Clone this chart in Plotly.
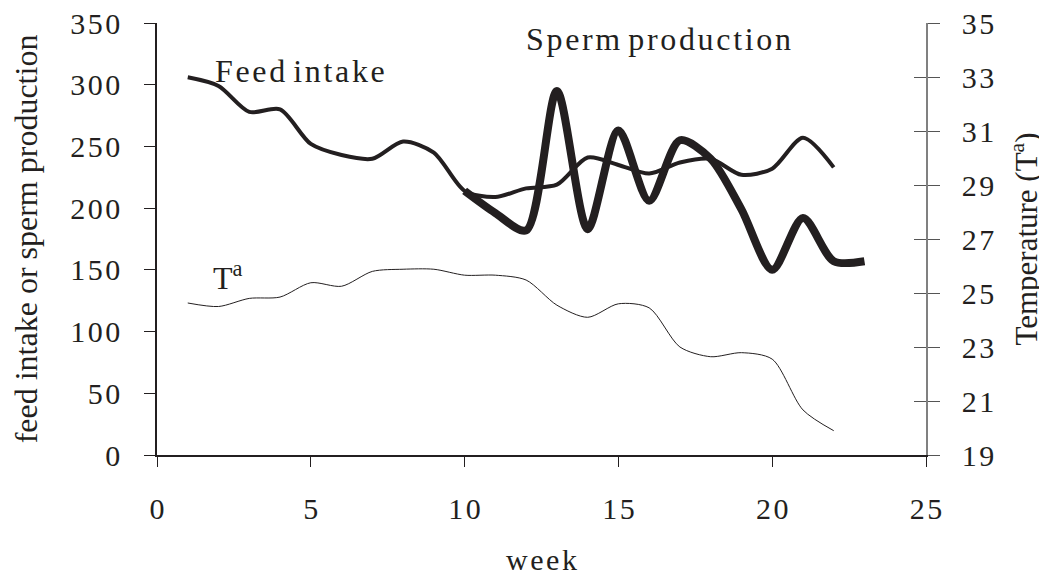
import plotly.graph_objects as go

# ---- data ----
weeks_feed = list(range(1, 23))
feed_intake = [306, 299, 278, 280, 252, 243, 240, 254, 245, 214, 209, 216,
               219, 241, 235, 228, 237, 240, 227, 232, 257, 233]

weeks_sperm = list(range(10, 24))
sperm_production = [214, 196, 182, 295, 183, 263, 206, 255, 240, 199, 150,
                    192, 157, 157]

weeks_temp = list(range(1, 23))
temperature = [24.63, 24.5, 24.8, 24.85, 25.38, 25.25, 25.8, 25.88, 25.88,
               25.66, 25.66, 25.48, 24.55, 24.1, 24.6, 24.45, 23.0, 22.64,
               22.79, 22.55, 20.67, 19.9]

x_ticks = [0, 5, 10, 15, 20, 25]
left_ticks = [0, 50, 100, 150, 200, 250, 300, 350]
right_ticks = [19, 21, 23, 25, 27, 29, 31, 33, 35]

INK = "#231f20"
FONT = "Liberation Serif"
HS = "\u200a"  # hair space: reproduces the slightly wide letter spacing


def spaced(v):
    return HS.join(str(v))


def spaced_words(s):
    return "\u00a0".join(HS.join(w) for w in s.split(" "))


fig = go.Figure()

fig.add_trace(go.Scatter(x=weeks_temp, y=temperature, yaxis="y2",
                         mode="lines", line=dict(color=INK, width=1, shape="spline", smoothing=0.8),
                         name="Tª", showlegend=False))
fig.add_trace(go.Scatter(x=weeks_feed, y=feed_intake, mode="lines",
                         line=dict(color=INK, width=4, shape="spline", smoothing=0.8),
                         name="Feed intake", showlegend=False))
fig.add_trace(go.Scatter(x=weeks_sperm, y=sperm_production, mode="lines",
                         line=dict(color=INK, width=8, shape="spline", smoothing=0.8),
                         name="Sperm production", showlegend=False))
# invisible trace that activates yaxis3 (gives the right axis its crossing ticks)
fig.add_trace(go.Scatter(x=[1], y=[19], yaxis="y3", mode="markers",
                         marker=dict(opacity=0), showlegend=False, hoverinfo="skip"))

tickfont = dict(family=FONT, size=30, color=INK)

# the page body adds an 8px offset, so the figure is 8px smaller than the window
fig.update_layout(
    width=1039, height=568,
    margin=dict(l=149, r=121, t=15, b=121),
    paper_bgcolor="white", plot_bgcolor="white",
    font=dict(family=FONT, color=INK),
    xaxis=dict(range=[0, 25], tickvals=x_ticks, ticktext=[spaced(v) for v in x_ticks],
               ticks="outside", ticklen=10, tickcolor=INK, tickwidth=1,
               showline=True, linecolor=INK, linewidth=1.5, showgrid=False, zeroline=False,
               tickfont=tickfont, ticklabelstandoff=16, automargin=False, ticklabeloverflow="allow",
               title=dict(text=spaced_words("week"), font=dict(family=FONT, size=30, color=INK), standoff=25)),
    yaxis=dict(range=[0, 350], tickvals=left_ticks, ticktext=[spaced(v) for v in left_ticks],
               ticks="outside", ticklen=11, tickcolor=INK, tickwidth=1,
               showline=True, linecolor=INK, linewidth=1.5, showgrid=False, zeroline=False,
               tickfont=tickfont, ticklabelstandoff=18, automargin=False, ticklabeloverflow="allow",
               title=dict(text="feed intake or sperm production", font=dict(family=FONT, size=32, color=INK),
                          standoff=28)),
    yaxis2=dict(range=[19, 35], overlaying="y", side="right", anchor="x",
                tickvals=right_ticks, ticktext=[spaced(v) for v in right_ticks],
                ticks="outside", ticklen=12, tickcolor="#555555", tickwidth=1,
                showline=True, linecolor="#808080", linewidth=1.5, showgrid=False, zeroline=False,
                tickfont=tickfont, ticklabelstandoff=16, automargin=False, ticklabeloverflow="allow",
                title=dict(text="Temperature (T<sup>a</sup>)", font=dict(family=FONT, size=31, color=INK),
                           standoff=22)),
    yaxis3=dict(range=[19, 35], overlaying="y", side="right", anchor="x",
                tickvals=right_ticks, showticklabels=False, automargin=False,
                ticks="inside", ticklen=12, tickcolor="#555555", tickwidth=1,
                showline=False, showgrid=False, zeroline=False),
)

ann_font = dict(family=FONT, size=32, color=INK)
fig.add_annotation(x=4.65, y=311, xref="x", yref="y", text=spaced_words("Feed intake"),
                   showarrow=False, font=ann_font)
fig.add_annotation(x=16.3, y=337, xref="x", yref="y", text=spaced_words("Sperm production"),
                   showarrow=False, font=ann_font)
fig.add_annotation(x=2.3, y=145, xref="x", yref="y", text="T<sup>a</sup>",
                   showarrow=False, font=ann_font)

fig.write_html("out.html")
